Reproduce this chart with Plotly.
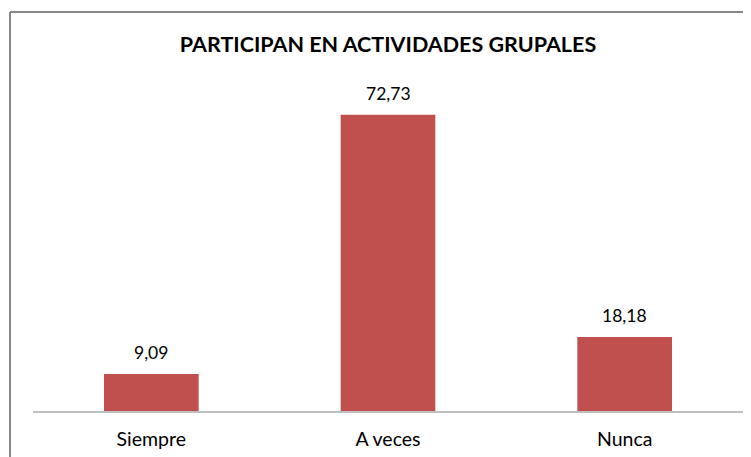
import plotly.graph_objects as go

categories = ["Siempre", "A veces", "Nunca"]
values = [9.09, 72.73, 18.18]
title_text = "PARTICIPAN EN ACTIVIDADES GRUPALES"

# page body has an 8px margin; figure sized/positioned to compensate
OFF = 8
W, H = 751 - OFF, 457 - OFF
ml, mr, mt, mb = 33 - OFF, 8, 85 - OFF, 46
pw, ph = W - ml - mr, H - mt - mb
FONT = "Lato, Liberation Sans, sans-serif"

def px_x(p):
    return (p - OFF - ml) / pw

def px_y(p):
    return (H - mb - (p - OFF)) / ph

fig = go.Figure(go.Bar(
    x=categories, y=values,
    marker=dict(color="#C0504D", line=dict(width=0)),
    cliponaxis=False,
))

annotations = [
    dict(x=c, y=v, xref="x", yref="y", text=f"{v:.2f}".replace(".", ","),
         showarrow=False, yanchor="bottom", xanchor="center", yshift=9,
         font=dict(family=FONT, size=17.5, color="#000000"))
    for c, v in zip(categories, values)
]

fig.update_layout(
    width=W, height=H,
    margin=dict(l=ml, r=mr, t=mt, b=mb, autoexpand=False),
    paper_bgcolor="white", plot_bgcolor="white",
    separators=", ",
    bargap=0.6,
    showlegend=False,
    title=dict(text="<b>" + title_text + "</b>", x=0.5, xref="paper", xanchor="center",
               y=1 - 36 / H, yanchor="middle",
               font=dict(family=FONT, size=21.5, color="#000000")),
    xaxis=dict(showline=True, linecolor="#BFBFBF", linewidth=2, ticks="", showgrid=False,
               tickfont=dict(family=FONT, size=19.5, color="#000000"),
               ticklabelstandoff=10),
    yaxis=dict(range=[0, 80], visible=False, showgrid=False),
    annotations=annotations,
    shapes=[
        dict(type="line", xref="paper", yref="paper", x0=px_x(10), x1=px_x(760), y0=px_y(12), y1=px_y(12),
             line=dict(color="#878787", width=2)),
        dict(type="line", xref="paper", yref="paper", x0=px_x(10), x1=px_x(10), y0=px_y(12), y1=px_y(470),
             line=dict(color="#878787", width=2)),
    ],
)

fig.write_html("out.html")
